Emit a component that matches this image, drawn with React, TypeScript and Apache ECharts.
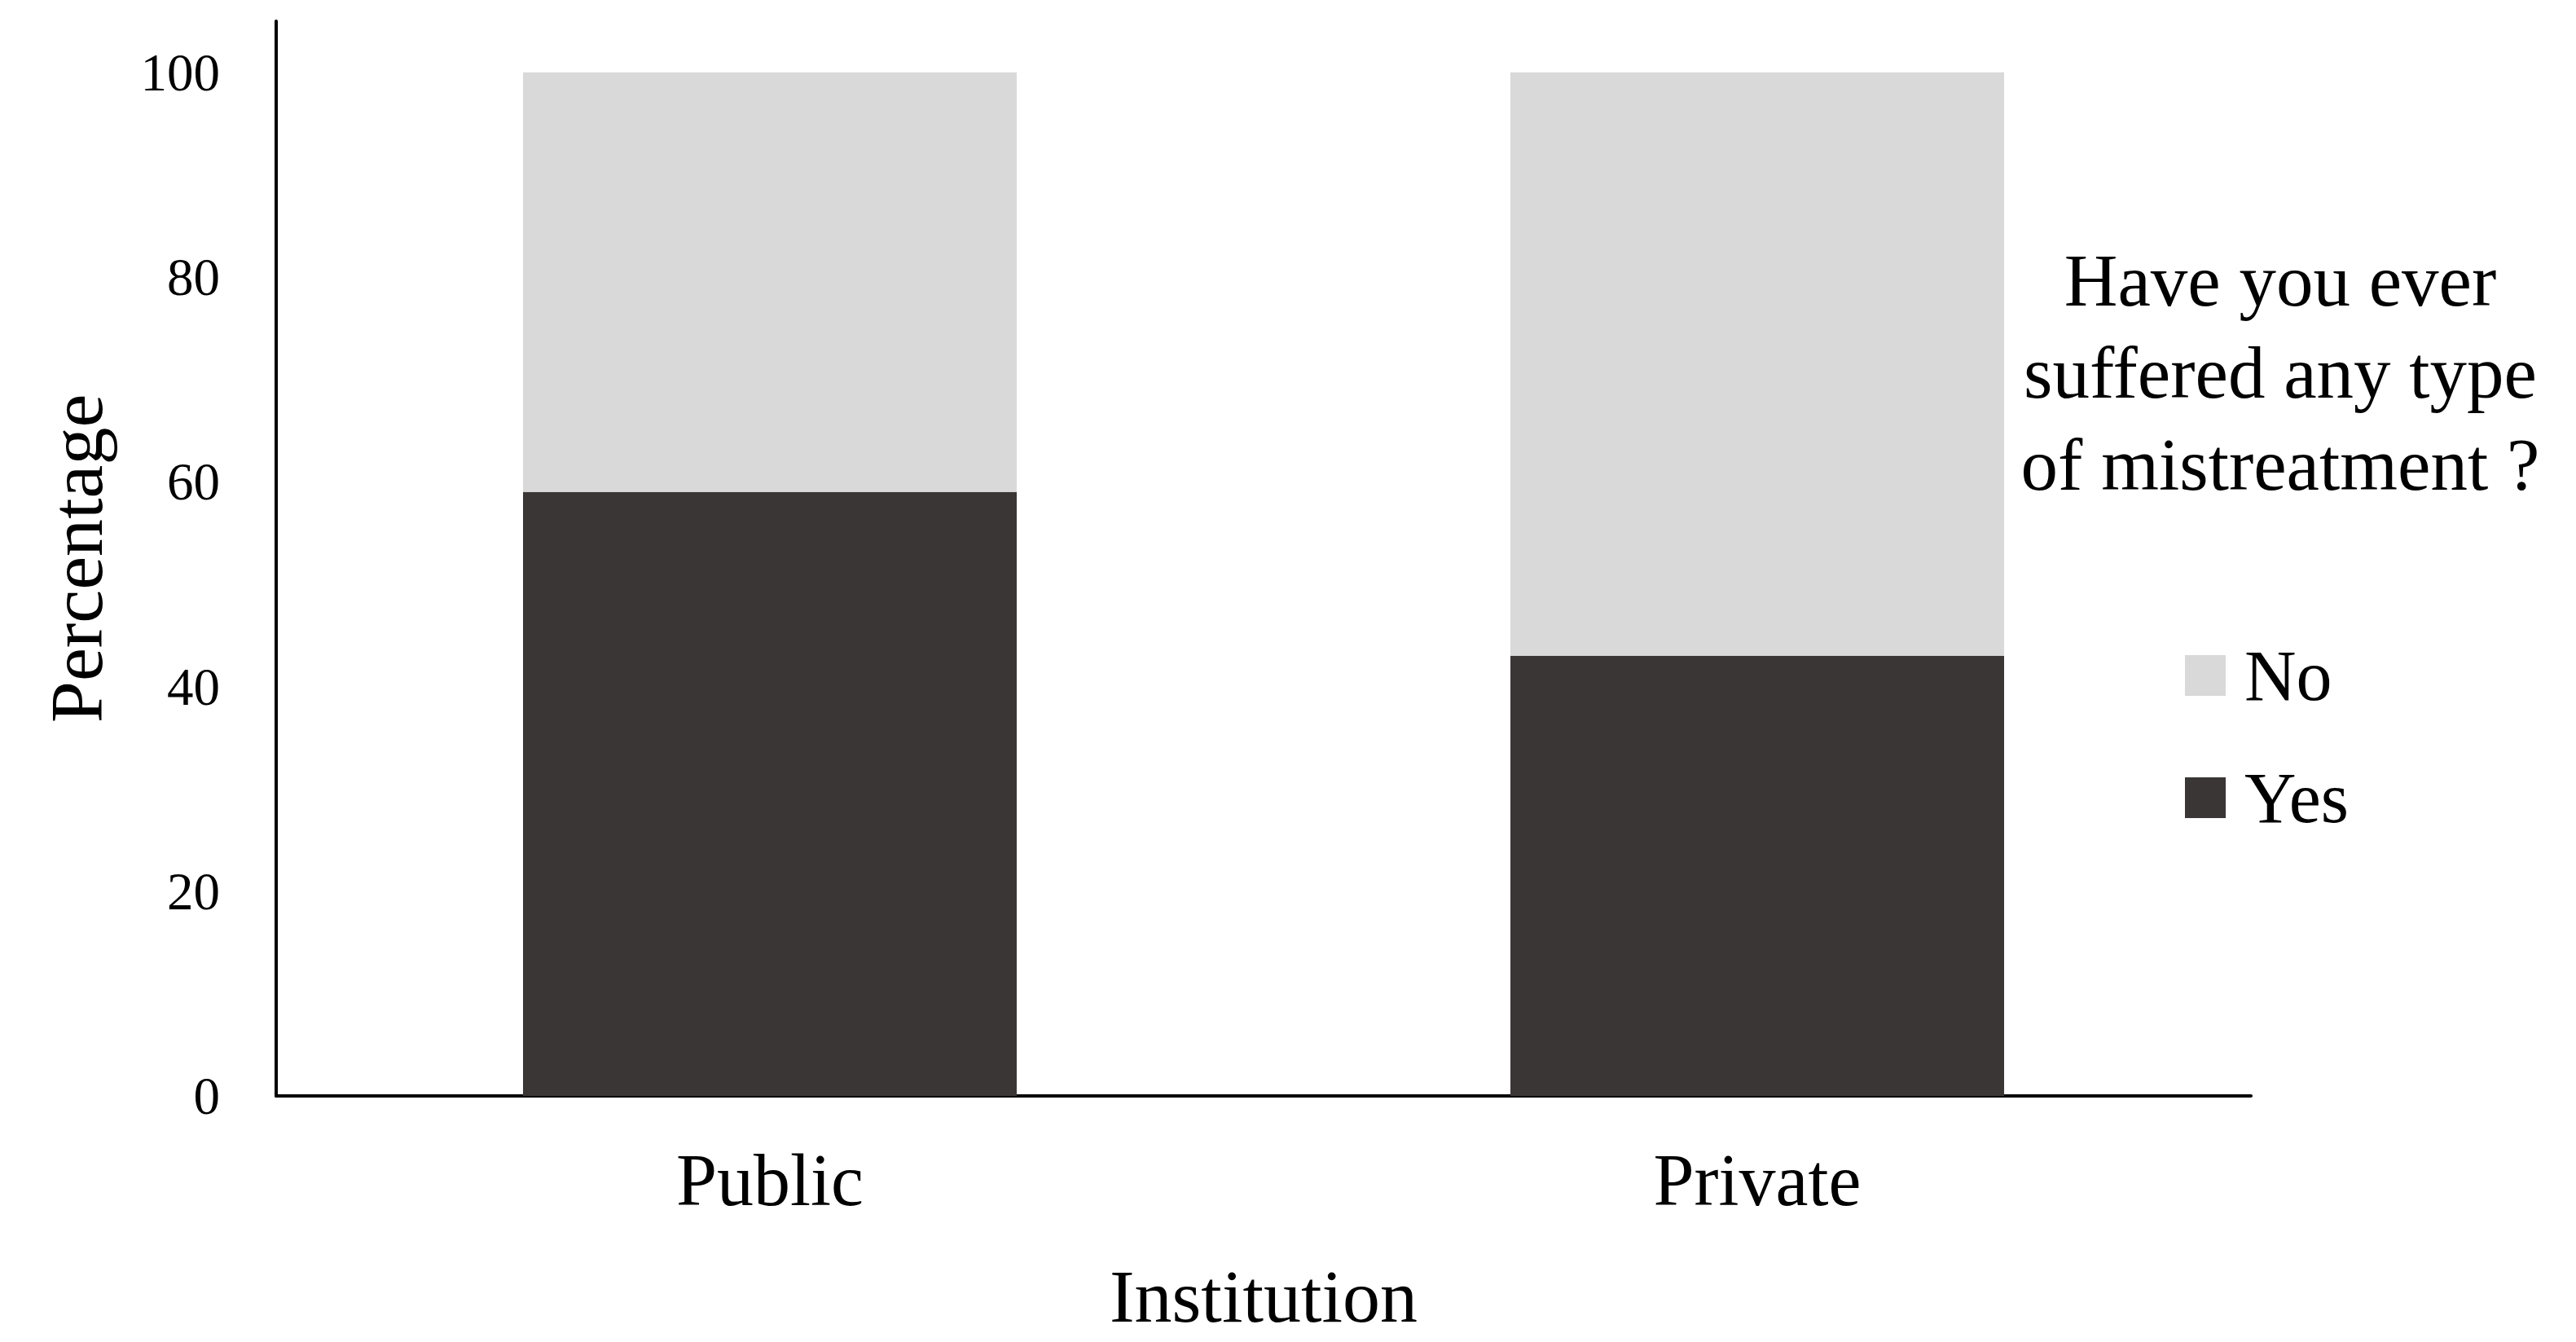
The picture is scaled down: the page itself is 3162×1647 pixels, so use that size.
import React, { useEffect, useRef } from "react";
import * as echarts from "echarts";

const categories = ["Public", "Private"];
const yesValues = [59, 43];
const noValues = [41, 57];
const yTicks = [0, 20, 40, 60, 80, 100];
const legendTitleLines = ["Have you ever", "suffered any type", "of mistreatment ?"];

const FONT = "'Liberation Serif', 'Times New Roman', serif";

export default function App() {
  const ref = useRef<HTMLDivElement>(null);
  useEffect(() => {
    document.body.style.margin = "0";
    const chart = echarts.init(ref.current!, null, { renderer: "svg" });
    chart.setOption({
      animation: false,
      backgroundColor: "#ffffff",
      textStyle: { fontFamily: FONT },
      grid: { left: 339, right: 399, top: 26, bottom: 302 },
      legend: {
        orient: "vertical",
        left: 2677,
        top: 780,
        itemWidth: 50,
        itemHeight: 50,
        itemGap: 62,
        icon: "rect",
        data: ["No", "Yes"],
        textStyle: { fontFamily: FONT, fontSize: 88, color: "#000", padding: [0, 0, 0, 18] },
      },
      graphic: [
        {
          type: "text",
          left: 2799 - 340,
          top: 288,
          style: {
            text: legendTitleLines.join("\n"),
            font: `91px ${FONT}`,
            fill: "#000",
            textAlign: "center",
            lineHeight: 113,
            width: 680,
          },
        },
      ],
      xAxis: {
        type: "category",
        data: categories,
        name: "Institution",
        nameLocation: "middle",
        nameGap: 200,
        nameTextStyle: { fontFamily: FONT, fontSize: 92, color: "#000" },
        axisLine: { lineStyle: { color: "#000", width: 4 } },
        axisTick: { show: false },
        axisLabel: { fontFamily: FONT, fontSize: 90, color: "#000", margin: 58 },
      },
      yAxis: {
        type: "value",
        min: 0,
        max: 105,
        interval: 20,
        name: "Percentage",
        nameLocation: "middle",
        nameGap: 199,
        nameTextStyle: { fontFamily: FONT, fontSize: 92, color: "#000" },
        axisLine: { show: true, lineStyle: { color: "#000", width: 4 } },
        axisTick: { show: false },
        splitLine: { show: false },
        axisLabel: {
          fontFamily: FONT,
          fontSize: 65,
          color: "#000",
          margin: 69,
          formatter: (v: number) => (yTicks.includes(v) ? String(v) : ""),
        },
      },
      series: [
        {
          name: "Yes",
          type: "bar",
          stack: "total",
          barWidth: "50%",
          data: yesValues,
          itemStyle: { color: "#3A3635" },
        },
        {
          name: "No",
          type: "bar",
          stack: "total",
          barWidth: "50%",
          data: noValues,
          itemStyle: { color: "#D9D9D9" },
        },
      ],
    });
    return () => chart.dispose();
  }, []);
  return <div ref={ref} style={{ width: 3162, height: 1647 }} />;
}
